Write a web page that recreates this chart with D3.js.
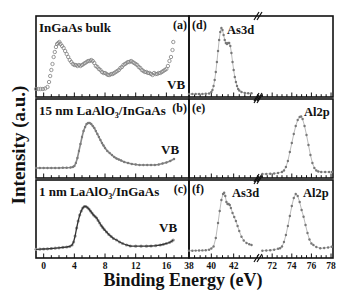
<!DOCTYPE html>
<html>
<head>
<meta charset="utf-8">
<script src="https://cdn.jsdelivr.net/npm/d3@7"></script>
<style>
    body { margin: 0; background: #fff; }
    text { font-family: "Liberation Serif", "Times New Roman", serif; font-weight: bold; fill: #111; }
</style>
</head>
<body>
<script>
// valence band spectra [binding energy (eV), intensity]
var vbBulk = [[-1.0, 8], [-0.7, 8], [-0.4, 8], [-0.1, 8], [0.2, 8.5], [0.5, 10], [0.7, 15], [0.85, 21], [1.0, 27], [1.15, 33],
    [1.3, 40], [1.45, 45], [1.6, 50], [1.75, 53], [1.9, 54], [2.05, 55], [2.2, 53], [2.4, 51], [2.6, 49], [2.8, 46],
    [3.0, 43], [3.2, 40], [3.4, 37], [3.6, 35], [3.8, 33], [4.0, 32], [4.2, 32], [4.4, 31], [4.6, 32], [4.8, 31],
    [5.0, 32], [5.2, 33], [5.4, 34], [5.6, 35], [5.8, 36], [6.0, 36], [6.2, 37], [6.4, 36], [6.6, 34], [6.8, 31],
    [7.0, 30], [7.2, 28], [7.4, 27], [7.6, 25], [7.8, 24], [8.0, 24], [8.2, 23], [8.4, 22], [8.6, 22], [8.8, 23],
    [9.0, 23], [9.2, 24], [9.4, 25], [9.6, 26], [9.8, 27], [10.0, 29], [10.2, 30], [10.4, 32], [10.6, 33], [10.8, 34],
    [11.0, 35], [11.2, 35], [11.4, 36], [11.6, 35], [11.8, 34], [12.0, 33], [12.2, 32], [12.4, 30], [12.6, 29], [12.8, 27],
    [13.0, 26], [13.2, 25], [13.4, 25], [13.6, 24], [13.8, 24], [14.0, 23], [14.2, 22], [14.4, 24], [14.6, 23], [14.8, 23],
    [15.0, 24], [15.2, 24], [15.4, 25], [15.6, 26], [15.8, 27], [16.0, 28], [16.2, 31], [16.4, 36], [16.6, 40], [16.8, 47], [16.9, 55]];

var vb15nm = [[-1.0, 10], [-0.5, 10], [0, 10], [0.5, 10], [1.0, 10], [1.5, 10], [2.0, 10], [2.5, 10.2], [3.0, 10.3], [3.5, 10.5],
    [3.8, 11], [4.0, 12], [4.2, 15], [4.4, 20], [4.6, 27], [4.8, 34], [5.0, 41], [5.2, 47], [5.4, 51], [5.6, 54],
    [5.8, 55], [6.0, 55], [6.2, 54], [6.4, 52], [6.6, 50], [6.8, 47], [7.0, 44], [7.2, 41], [7.4, 38], [7.6, 35],
    [7.8, 32.5], [8.0, 30], [8.3, 27], [8.6, 25], [8.9, 23], [9.2, 21], [9.5, 19.5], [9.8, 18.5], [10.1, 17.5], [10.5, 16],
    [11.0, 15], [11.5, 14], [12.0, 13.5], [12.5, 13], [13.0, 13], [13.5, 13], [14.0, 13], [14.5, 13], [15.0, 13.5], [15.5, 14.5],
    [16.0, 15.5], [16.5, 17], [17.0, 19]];

var vb1nm = [[-1.0, 8.7], [-0.5, 8.8], [0, 9], [0.5, 9.2], [1.0, 9.5], [1.5, 9.8], [2.0, 10.2], [2.5, 10.6], [3.0, 11], [3.4, 11.5],
    [3.7, 13], [3.9, 16], [4.1, 22], [4.3, 30], [4.5, 37], [4.7, 43], [4.9, 47], [5.1, 50], [5.3, 51.5], [5.5, 51.5],
    [5.7, 50.5], [5.9, 49], [6.1, 47], [6.3, 45], [6.5, 43], [6.7, 41.5], [6.9, 40], [7.1, 37.5], [7.3, 35], [7.5, 32.5],
    [7.7, 30.5], [7.9, 28.5], [8.2, 26], [8.5, 23.5], [8.8, 21.5], [9.1, 19.5], [9.5, 18], [9.9, 16], [10.3, 14.5], [10.8, 13],
    [11.3, 12], [12.0, 11.8], [12.7, 11.8], [13.4, 11.8], [14.0, 12], [14.6, 12.3], [15.2, 13], [15.6, 13.7], [16.0, 14.5], [16.4, 15.5],
    [16.7, 16.8], [16.9, 18]];

// core level spectra
var as3dBulk = [[38.0, 3], [38.3, 3], [38.6, 3], [38.9, 3], [39.2, 3], [39.5, 3.2], [39.8, 3.5], [40.0, 5], [40.1, 7], [40.2, 11],
    [40.3, 17], [40.4, 25], [40.5, 35], [40.6, 46], [40.7, 57], [40.8, 65], [40.9, 69], [41.0, 67], [41.1, 62], [41.2, 57],
    [41.3, 54], [41.4, 53], [41.5, 54], [41.6, 54], [41.7, 51], [41.8, 44], [41.9, 35], [42.0, 27], [42.1, 20], [42.2, 15],
    [42.3, 11], [42.4, 8], [42.5, 6.5], [42.7, 5], [43.0, 4], [43.3, 3.7], [43.6, 3.7]];

var al2p15nm = [[71.0, 4], [71.4, 4], [71.8, 4.2], [72.2, 4.5], [72.6, 5], [73.0, 6], [73.2, 7.5], [73.4, 11], [73.6, 17], [73.8, 26],
    [74.0, 35], [74.2, 44], [74.4, 52], [74.6, 58], [74.8, 61], [74.95, 61.5], [75.1, 59], [75.3, 52], [75.5, 43], [75.7, 33],
    [75.9, 23], [76.1, 15], [76.3, 10], [76.5, 7.5], [76.7, 6.5], [77.0, 6], [77.4, 6], [77.8, 6], [78.1, 6]];

var as3d1nm = [[38.0, 7.3], [38.3, 7.3], [38.6, 7.4], [38.9, 7.5], [39.2, 7.6], [39.5, 7.8], [39.8, 8.3], [40.0, 9.5], [40.2, 11.5], [40.4, 20],
    [40.6, 35], [40.75, 47], [40.9, 58], [41.05, 64], [41.15, 65.3], [41.25, 62], [41.35, 56], [41.45, 54], [41.55, 54], [41.65, 53],
    [41.75, 50], [41.9, 45], [42.05, 41], [42.2, 37], [42.35, 32], [42.5, 27], [42.7, 21.3], [42.9, 17.5], [43.15, 15], [43.4, 13.8], [43.6, 13]];

var al2p1nm = [[71.0, 7.3], [71.4, 7.5], [71.8, 7.8], [72.2, 8.3], [72.6, 9.2], [72.8, 9.7], [73.0, 11.5], [73.2, 16], [73.4, 23], [73.6, 32],
    [73.8, 42], [74.0, 52], [74.2, 60], [74.4, 64], [74.6, 62], [74.8, 56], [75.0, 48], [75.2, 41.3], [75.4, 33], [75.6, 25],
    [75.8, 18.5], [76.0, 14.5], [76.2, 13], [76.5, 11], [76.9, 9.7], [77.3, 10], [77.7, 10.5], [78.07, 11.3]];

// tick labels
var vbTicks = [0, 4, 8, 12, 16];
var lowTicks = [38, 40, 42];
var highTicks = [72, 74, 76, 78];

// panel texts
var sampleNames = ["InGaAs bulk", "15 nm LaAlO", "1 nm LaAlO"];
var leftTags = ["(a)", "(b)", "(c)"];
var rightTags = ["(d)", "(e)", "(f)"];

function init() {
    var svg, rows, xVB, xLow, xHigh, colLeft, colRight, breakX;

    //panel geometry
    rows = [{ top: 16, bottom: 97 }, { top: 99, bottom: 178 }, { top: 180, bottom: 258 }];
    colLeft = { left: 36, right: 189 };
    colRight = { left: 189, right: 333 };
    breakX = 256;

    svg = d3.select("body")
        .append("svg")
        .attr("width", 349)
        .attr("height", 301);

    //x scales
    xVB = d3.scaleLinear().domain([-1, 18.95]).range([colLeft.left, colLeft.right]);
    xLow = d3.scaleLinear().domain([38, 44]).range([colRight.left, breakX]);
    xHigh = d3.scaleLinear().domain([70.35, 78.2]).range([breakX, colRight.right]);

    //one y scale per row
    rows.forEach(function (r) {
        r.y = d3.scaleLinear().domain([0, r.bottom - r.top]).range([r.bottom, r.top]);
    });

    //frames
    rows.forEach(function (r) {
        svg.append("rect")
            .attr("x", colLeft.left).attr("y", r.top)
            .attr("width", colLeft.right - colLeft.left).attr("height", r.bottom - r.top)
            .attr("fill", "none").attr("stroke", "#111").attr("stroke-width", 1.6);
        svg.append("rect")
            .attr("x", colRight.left).attr("y", r.top)
            .attr("width", colRight.right - colRight.left).attr("height", r.bottom - r.top)
            .attr("fill", "none").attr("stroke", "#111").attr("stroke-width", 1.6);
    });

    //inward ticks on the bottom of every panel
    function ticks(scale, values, majorTest, r) {
        svg.append("g").selectAll("line")
            .data(values)
            .enter().append("line")
            .attr("x1", function (d) { return scale(d); })
            .attr("x2", function (d) { return scale(d); })
            .attr("y1", r.bottom)
            .attr("y2", function (d) { return r.bottom - (majorTest(d) ? 4.5 : 2.8); })
            .attr("stroke", "#111").attr("stroke-width", 1);
    }
    rows.forEach(function (r) {
        ticks(xVB, d3.range(0, 19, 1), function (d) { return d % 4 === 0; }, r);
        ticks(xLow, d3.range(38.5, 44, 0.5), function (d) { return d % 2 === 0; }, r);
        ticks(xHigh, d3.range(70.5, 78.1, 0.5), function (d) { return d % 2 === 0; }, r);
    });

    //tick labels on the bottom row
    var bottom = rows[2].bottom;
    function labels(scale, values) {
        svg.append("g").selectAll("text")
            .data(values)
            .enter().append("text")
            .attr("x", function (d) { return scale(d); })
            .attr("y", bottom + 11)
            .attr("text-anchor", "middle")
            .style("font-size", "9.5px")
            .text(function (d) { return d; });
    }
    labels(xVB, vbTicks);
    labels(xLow, lowTicks);
    labels(xHigh, highTicks);

    //axis break marks
    rows.forEach(function (r) {
        [r.top, r.bottom].forEach(function (yy) {
            [0, 3].forEach(function (dx) {
                svg.append("line")
                    .attr("x1", breakX - 2 + dx).attr("y1", yy + 4)
                    .attr("x2", breakX + 3 + dx).attr("y2", yy - 4)
                    .attr("stroke", "#111").attr("stroke-width", 1.2);
            });
        });
    });

    //spectra drawing helpers
    function lineOf(scale, r) {
        return d3.line()
            .x(function (d) { return scale(d[0]); })
            .y(function (d) { return r.y(d[1]); });
    }
    function dots(data, scale, r, rad, color) {
        svg.append("g").selectAll("circle")
            .data(data)
            .enter().append("circle")
            .attr("cx", function (d) { return scale(d[0]); })
            .attr("cy", function (d) { return r.y(d[1]); })
            .attr("r", rad)
            .attr("fill", color);
    }

    //(a) bulk VB - open circles
    svg.append("g").selectAll("circle")
        .data(vbBulk)
        .enter().append("circle")
        .attr("cx", function (d) { return xVB(d[0]); })
        .attr("cy", function (d) { return rows[0].y(d[1]); })
        .attr("r", 1.7)
        .attr("fill", "none")
        .attr("stroke", "#808080")
        .attr("stroke-width", 0.8);

    //(b) 15 nm VB
    svg.append("path").datum(vb15nm)
        .attr("d", lineOf(xVB, rows[1]))
        .attr("fill", "none").attr("stroke", "#8a8a8a").attr("stroke-width", 1.6);
    dots(vb15nm, xVB, rows[1], 1.2, "#7a7a7a");

    //(c) 1 nm VB - grey points with black fit
    dots(vb1nm, xVB, rows[2], 1.6, "#9a9a9a");
    svg.append("path").datum(vb1nm)
        .attr("d", lineOf(xVB, rows[2]))
        .attr("fill", "none").attr("stroke", "#333").attr("stroke-width", 1.3);

    //(d) - (f) core levels
    [[as3dBulk, xLow, rows[0]], [al2p15nm, xHigh, rows[1]], [as3d1nm, xLow, rows[2]], [al2p1nm, xHigh, rows[2]]]
        .forEach(function (s) {
            svg.append("path").datum(s[0]).attr("d", lineOf(s[1], s[2]))
                .attr("fill", "none").attr("stroke", "#aaa").attr("stroke-width", 0.8);
            dots(s[0], s[1], s[2], 1.2, "#777");
        });

    //panel texts
    rows.forEach(function (r, i) {
        var t = svg.append("text")
            .attr("x", 39).attr("y", r.top + 16)
            .style("font-size", "13px");
        t.append("tspan").text(sampleNames[i]);
        if (i > 0) {
            t.append("tspan").attr("dy", 3).style("font-size", "8px").text("3");
            t.append("tspan").attr("dy", -3).text("/InGaAs");
        }
        svg.append("text")
            .attr("x", 187).attr("y", r.top + 13)
            .attr("text-anchor", "end")
            .style("font-size", "12px")
            .text(leftTags[i]);
        svg.append("text")
            .attr("x", 192).attr("y", r.top + 13)
            .style("font-size", "12px")
            .text(rightTags[i]);
    });

    //VB labels
    [[167, 89], [161, 154], [159, 232]].forEach(function (p) {
        svg.append("text").attr("x", p[0]).attr("y", p[1])
            .style("font-size", "13px").text("VB");
    });

    //core level labels
    [[227, 34, "As3d"], [304, 116, "Al2p"], [232, 197, "As3d"], [303, 197, "Al2p"]].forEach(function (p) {
        svg.append("text").attr("x", p[0]).attr("y", p[1])
            .style("font-size", "12.5px").text(p[2]);
    });

    //axis titles
    svg.append("text")
        .attr("x", 183).attr("y", 286)
        .attr("text-anchor", "middle")
        .style("font-size", "18px")
        .text("Binding Energy (eV)");

    svg.append("text")
        .attr("transform", "translate(25,145) rotate(-90)")
        .attr("text-anchor", "middle")
        .style("font-size", "19px")
        .text("Intensity (a.u.)");
}

window.onload = init;
</script>
</body>
</html>
